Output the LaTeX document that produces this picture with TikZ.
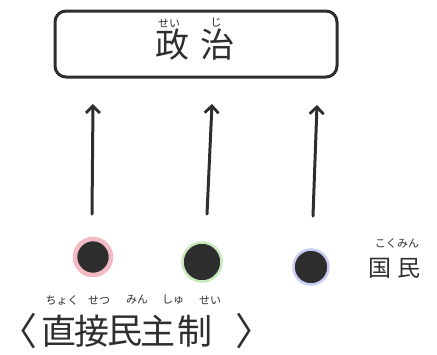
\documentclass[tikz,border=0pt]{standalone}
\usepackage{fontspec}
\newfontfamily\jp{Noto Sans CJK JP}
\usetikzlibrary{arrows.meta}
\definecolor{ink}{HTML}{2E2E2E}
\definecolor{ringpink}{HTML}{F2BAC4}
\definecolor{ringgreen}{HTML}{C9E8BC}
\definecolor{ringblue}{HTML}{C8CCF2}
\tikzset{
  pen/.style={draw=ink, line width=3pt, line cap=round},
  uparrow/.style={pen, -{Straight Barb[length=7pt,width=14pt,line width=2.8pt]}},
  dot/.style={circle, fill=ink, draw=#1, inner sep=0pt},
  ruby/.style={font=\jp\fontsize{11}{11}\selectfont, text=ink, inner sep=0pt},
  big/.style={font=\jp\fontsize{#1}{#1}\selectfont, text=ink, inner sep=0pt}
}
\begin{document}
\begin{tikzpicture}[x=1pt,y=-1pt]
\useasboundingbox (0,0) rectangle (437,354);
\fill[white] (0,0) rectangle (437,354);
% box
\node[pen, rounded corners=11pt, minimum width=282pt, minimum height=66pt, inner sep=0pt] (box) at (196,44) {};
\node[big=34] (sei) at (172,45) {政};
\node[big=34] (ji) at (217,45) {治};
\node[ruby] (r1) at (169,23) {せい};
\node[ruby] (r2) at (216,23) {じ};
% arrows
\coordinate (b1) at (92,214);
\coordinate (t1) at (93,104);
\coordinate (b2) at (207,214);
\coordinate (t2) at (212,104);
\coordinate (b3) at (313,216);
\coordinate (t3) at (317,105);
\draw[uparrow] (b1) -- (t1);
\draw[uparrow] (b2) -- (t2);
\draw[uparrow] (b3) -- (t3);
% dots
\node[dot=ringpink, line width=4.5pt, minimum size=36pt] (d1) at (93,257) {};
\node[dot=ringgreen, line width=2.5pt, minimum size=39pt] (d2) at (202,262) {};
\node[dot=ringblue, line width=2.5pt, minimum size=35pt] (d3) at (311,267) {};
% kokumin
\node[big=23] (koku) at (380,268) {国};
\node[big=23] (min) at (409,268) {民};
\node[ruby] (rk) at (397,243) {こくみん};
% bottom title
\node[big=38] (lb) at (18,331) {〈};
\node[big=35] (c1) at (59,331) {直};
\node[big=35] (c2) at (92,331) {接};
\node[big=35] (c3) at (125,331) {民};
\node[big=35] (c4) at (158,331) {主};
\node[big=35] (c5) at (195,331) {制};
\node[big=38] (rb) at (254,331) {〉};
\node[ruby] (rt1) at (62,300) {ちょく};
\node[ruby] (rt2) at (99,300) {せつ};
\node[ruby] (rt3) at (137,300) {みん};
\node[ruby] (rt4) at (173,300) {しゅ};
\node[ruby] (rt5) at (210,300) {せい};
\end{tikzpicture}
\end{document}
